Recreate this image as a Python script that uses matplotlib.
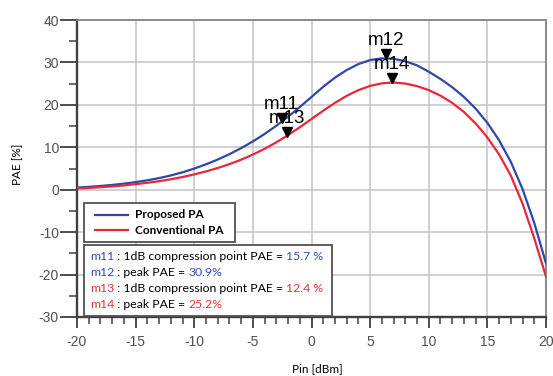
import numpy as np
import matplotlib
matplotlib.use("Agg")
import matplotlib.pyplot as plt
from matplotlib import transforms
from matplotlib.patches import Rectangle
from matplotlib.lines import Line2D

plt.rcParams['axes.unicode_minus'] = False

# ---- data ----
pin = list(range(-20, 21))
pae_proposed = [0.50, 0.67, 0.88, 1.13, 1.43, 1.79, 2.22, 2.74, 3.36, 4.10,
                4.98, 5.98, 7.11, 8.38, 9.80, 11.38, 13.14, 15.08, 17.20, 19.48,
                21.86, 24.26, 26.41, 28.21, 29.61, 30.56, 30.96, 30.86, 30.28, 29.30,
                27.81, 26.11, 24.16, 21.86, 19.11, 15.76, 11.66, 6.56, 0.16, -7.84,
                -17.34]
pae_conventional = [0.30, 0.43, 0.59, 0.78, 1.01, 1.31, 1.63, 2.01, 2.46, 2.99,
                    3.61, 4.31, 5.11, 6.03, 7.08, 8.28, 9.64, 11.17, 12.87, 14.72,
                    16.67, 18.62, 20.47, 22.12, 23.47, 24.47, 25.07, 25.27, 25.02, 24.42,
                    23.47, 22.17, 20.47, 18.32, 15.62, 12.32, 8.32, 3.32, -3.28, -11.48,
                    -20.48]

marker_names = ["m11", "m12", "m13", "m14"]
marker_x = [-2.54, 6.35, -2.11, 6.84]
marker_y = [15.7, 30.9, 12.4, 25.2]

series_names = ["Proposed PA", "Conventional PA"]
info_labels = ["m11", "m12", "m13", "m14"]
info_texts = [" : 1dB compression point PAE = ", " : peak PAE = ",
              " : 1dB compression point PAE = ", " : peak PAE = "]
info_values = ["15.7 %", "30.9%", "12.4 %", "25.2%"]

xticks = [-20, -15, -10, -5, 0, 5, 10, 15, 20]
yticks = [-30, -20, -10, 0, 10, 20, 30, 40]

BLUE = "#2f47a6"
RED = "#e8283a"
TXT_BLUE = "#2b4eb0"
TXT_RED = "#e83030"

W, H = 553, 376
fig = plt.figure(figsize=(W / 100, H / 100), dpi=100)
ax = fig.add_axes([77 / W, 1 - 317 / H, 469 / W, 297 / H])

ax.plot(pin, pae_proposed, color=BLUE, lw=1.6, zorder=3)
ax.plot(pin, pae_conventional, color=RED, lw=1.6, zorder=3)

ax.set_xlim(-20, 20)
ax.set_ylim(-30, 40)
ax.set_xticks(xticks)
ax.set_xticks(np.arange(-20, 21, 1), minor=True)
ax.set_yticks(yticks)
ax.set_yticks(np.arange(-30, 41, 5), minor=True)
ax.grid(True, which='major', color='#c8c8c8', lw=1.2, zorder=0)
ax.set_axisbelow(True)

for s in ['left', 'bottom']:
    ax.spines[s].set_color('#404040')
    ax.spines[s].set_linewidth(1.7)
for s in ['top', 'right']:
    ax.spines[s].set_color('#8a8a8a')
    ax.spines[s].set_linewidth(1.4)

ax.tick_params(axis='x', which='major', direction='out', length=8, width=1.3,
               color='#404040', labelsize=10, labelcolor='#505050', pad=5)
ax.tick_params(axis='x', which='minor', direction='out', length=5, width=1.1,
               color='#404040')
ax.tick_params(axis='y', which='major', direction='out', length=12, width=1.3,
               color='#404040', labelsize=10, labelcolor='#505050', pad=1)
ax.tick_params(axis='y', which='minor', direction='out', length=6, width=1.1,
               color='#404040')
for lab in ax.get_xticklabels() + ax.get_yticklabels():
    lab.set_family('Liberation Sans')

fig.text(317 / W, 1 - 369 / H, "Pin [dBm]", family='Lato', fontsize=8.5,
         ha='center', va='center')
fig.text(18 / W, 1 - 164 / H, "PAE [%]", family='Lato', fontsize=8.5,
         ha='center', va='center', rotation=90)

# markers
for name, mx, my in zip(marker_names, marker_x, marker_y):
    tr = transforms.offset_copy(ax.transData, fig=fig, x=0, y=3.6, units='points')
    ax.plot([mx], [my], marker='v', color='black', markersize=7.5, transform=tr,
            zorder=5, linestyle='none')
    ax.annotate(name, xy=(mx, my), xytext=(0, 10), textcoords='offset points',
                ha='center', va='baseline', fontsize=13.5, family='Liberation Sans',
                color='black', zorder=6)

# legend box
def ax_x(px):
    return (px - 77) / 469

def ax_y(py):
    return (317 - py) / 297

ax.add_patch(Rectangle((ax_x(84), ax_y(242)), ax_x(235) - ax_x(84), ax_y(203) - ax_y(242),
                       transform=ax.transAxes, facecolor='white', edgecolor='#505050',
                       lw=1.3, zorder=7))
for name, col, py in zip(series_names, [BLUE, RED], [214.5, 230]):
    ax.add_line(Line2D([ax_x(95), ax_x(128)], [ax_y(py), ax_y(py)], color=col, lw=1.6,
                       transform=ax.transAxes, zorder=8))
    ax.text(ax_x(135), ax_y(py), name, transform=ax.transAxes, fontsize=8.5,
            fontweight='bold', family='Lato', va='center', ha='left', zorder=8)

# info box
ax.add_patch(Rectangle((ax_x(84), ax_y(316)), ax_x(332) - ax_x(84), ax_y(245) - ax_y(316),
                       transform=ax.transAxes, facecolor='white', edgecolor='#505050',
                       lw=1.3, zorder=7))
info_cols = [TXT_BLUE, TXT_BLUE, TXT_RED, TXT_RED]
for lab, txt, val, col, py in zip(info_labels, info_texts, info_values, info_cols,
                                  [256, 272.3, 288.6, 305]):
    t1 = ax.text(ax_x(90), ax_y(py), lab, transform=ax.transAxes, fontsize=8.8,
                 family='Lato', color=col, va='center', ha='left', zorder=8)
    t2 = ax.annotate(txt, xy=(1, 0), xycoords=t1, va='bottom', ha='left',
                     fontsize=8.8, family='Lato', color='black', zorder=8)
    ax.annotate(val, xy=(1, 0), xycoords=t2, va='bottom', ha='left',
                fontsize=8.8, family='Lato', color=col, zorder=8)

fig.savefig("out.png", dpi=100)
